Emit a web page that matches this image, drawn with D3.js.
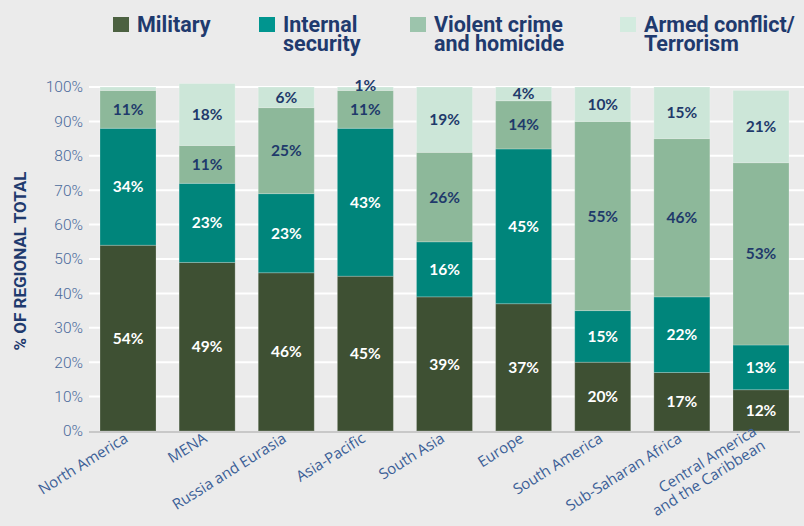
<!DOCTYPE html>
<html>
<head>
<meta charset="utf-8">
<script src="https://cdn.jsdelivr.net/npm/d3@7"></script>
<style>
  html, body { margin: 0; padding: 0; background: #ebebeb; }
  svg { display: block; }
</style>
</head>
<body>
<svg id="chart" width="804" height="526"></svg>
<script>
// Regional breakdown of spending, share of regional total (%)
const regions = [
  "North America", "MENA", "Russia and Eurasia", "Asia-Pacific", "South Asia",
  "Europe", "South America", "Sub-Saharan Africa", "Central America\nand the Caribbean"
];
const military         = [54, 49, 46, 45, 39, 37, 20, 17, 12];
const internalSecurity = [34, 23, 23, 43, 16, 45, 15, 22, 13];
const violentCrime     = [11, 11, 25, 11, 26, 14, 55, 46, 53];
const armedConflict    = [1, 18, 6, 1, 19, 4, 10, 15, 21];

const seriesKeys = ["military", "internal", "violent", "armed"];
const seriesNames = [["Military"], ["Internal", "security"], ["Violent crime", "and homicide"], ["Armed conflict/", "Terrorism"]];
const yTicks = [0, 10, 20, 30, 40, 50, 60, 70, 80, 90, 100];
// segments drawn without a value label
const unlabelled = [["North America", "armed"]];

const barColors    = { military: "#3e5033", internal: "#00857b", violent: "#8db89a", armed: "#cce6d8" };
const legendColors = { military: "#4c6141", internal: "#00958f", violent: "#9cc4ac", armed: "#d3ebdf" };
const labelColors  = { military: "#ffffff", internal: "#ffffff", violent: "#1f3a6b", armed: "#1f3a6b" };

const rows = regions.map((r, i) => ({
  region: r,
  military: military[i],
  internal: internalSecurity[i],
  violent: violentCrime[i],
  armed: armedConflict[i]
}));

const svg = d3.select("#chart");
const W = 804, H = 526;
const plot = { left: 89, right: 800, top: 87, bottom: 431 };

const x = d3.scaleBand()
  .domain(regions)
  .range([plot.left, plot.right])
  .paddingInner(0.292)
  .paddingOuter(0.139);

const y = d3.scaleLinear().domain([0, 100]).range([plot.bottom, plot.top]);

// gridlines
svg.append("g")
  .selectAll("line")
  .data(yTicks.filter(t => t > 0))
  .join("line")
  .attr("x1", plot.left).attr("x2", W)
  .attr("y1", d => y(d)).attr("y2", d => y(d))
  .attr("stroke", "#ffffff").attr("stroke-width", 2);

// y axis tick labels
const yAxis = d3.axisLeft(y).tickValues(yTicks).tickFormat(d => d + "%").tickSize(0).tickPadding(6);
const yg = svg.append("g").attr("transform", `translate(${plot.left},0)`).call(yAxis);
yg.select(".domain").remove();
yg.selectAll("text")
  .attr("font-family", "Roboto, sans-serif")
  .attr("font-weight", 300)
  .attr("font-size", 15.5)
  .attr("fill", "#4a6a9b");

// y axis title
svg.append("text")
  .attr("transform", `translate(26,${(plot.top + plot.bottom) / 2 + 2}) rotate(-90)`)
  .attr("text-anchor", "middle")
  .attr("font-family", "Roboto, sans-serif")
  .attr("font-weight", 700)
  .attr("font-size", 17)
  .attr("fill", "#1f3a6e")
  .text("% OF REGIONAL TOTAL");

// stacked bars
const stacked = d3.stack().keys(seriesKeys)(rows);

const layers = svg.append("g")
  .selectAll("g")
  .data(stacked)
  .join("g")
  .attr("fill", d => barColors[d.key]);

layers.selectAll("rect")
  .data(d => d.map(s => ({ key: d.key, s })))
  .join("rect")
  .attr("x", d => x(d.s.data.region))
  .attr("width", x.bandwidth())
  .attr("y", d => y(d.s[1]))
  .attr("height", d => y(d.s[0]) - y(d.s[1]))
  .attr("stroke", "rgba(255,255,255,0.22)")
  .attr("stroke-width", 1);

// baseline
svg.append("line")
  .attr("x1", plot.left).attr("x2", plot.right)
  .attr("y1", plot.bottom + 1).attr("y2", plot.bottom + 1)
  .attr("stroke", "#c8c8c8").attr("stroke-width", 2);

// value labels
const isHidden = (region, key) => unlabelled.some(u => u[0] === region && u[1] === key);
const labelData = [];
stacked.forEach(layer => {
  layer.forEach(s => {
    const v = s.data[layer.key];
    if (isHidden(s.data.region, layer.key)) return;
    const h = y(s[0]) - y(s[1]);
    const small = h < 10;
    labelData.push({
      key: layer.key,
      text: v + "%",
      cx: x(s.data.region) + x.bandwidth() / 2,
      cy: small ? y(s[1]) - 2 : (y(s[0]) + y(s[1])) / 2
    });
  });
});

svg.append("g")
  .selectAll("text")
  .data(labelData)
  .join("text")
  .attr("x", d => d.cx)
  .attr("y", d => d.cy)
  .attr("dy", "0.36em")
  .attr("text-anchor", "middle")
  .attr("font-family", "Lato, sans-serif")
  .attr("font-weight", 700)
  .attr("font-size", 15.5)
  .attr("fill", d => labelColors[d.key])
  .text(d => d.text);

// category labels, rotated
const xl = svg.append("g")
  .selectAll("text")
  .data(regions)
  .join("text")
  .attr("transform", d => `translate(${x(d) + x.bandwidth() / 2 + 1},${plot.bottom + 10}) rotate(-32)`)
  .attr("text-anchor", "end")
  .attr("font-family", "'Open Sans', sans-serif")
  .attr("font-weight", 400)
  .attr("font-size", 15)
  .attr("fill", "#3b5f97");

xl.each(function (d) {
  const lines = d.split("\n");
  const t = d3.select(this);
  lines.forEach((ln, i) => {
    t.append("tspan")
      .attr("x", 0)
      .attr("dy", i === 0 ? `${-(lines.length - 1) * 0.55}em` : "1.1em")
      .text(ln);
  });
});

// legend
const legendX = [113, 259, 410, 620];
const legend = svg.append("g")
  .selectAll("g")
  .data(seriesKeys)
  .join("g")
  .attr("transform", (d, i) => `translate(${legendX[i]},17)`);

legend.append("rect")
  .attr("width", 16).attr("height", 15)
  .attr("fill", d => legendColors[d]);

legend.append("text")
  .attr("x", 24)
  .attr("y", 15)
  .attr("font-family", "Roboto, sans-serif")
  .attr("font-weight", 700)
  .attr("font-size", 21.5)
  .attr("fill", "#1f3a6e")
  .each(function (d, i) {
    const t = d3.select(this);
    seriesNames[i].forEach((ln, j) => {
      t.append("tspan").attr("x", 24).attr("dy", j === 0 ? 0 : 18.5).text(ln);
    });
  });
</script>
</body>
</html>
